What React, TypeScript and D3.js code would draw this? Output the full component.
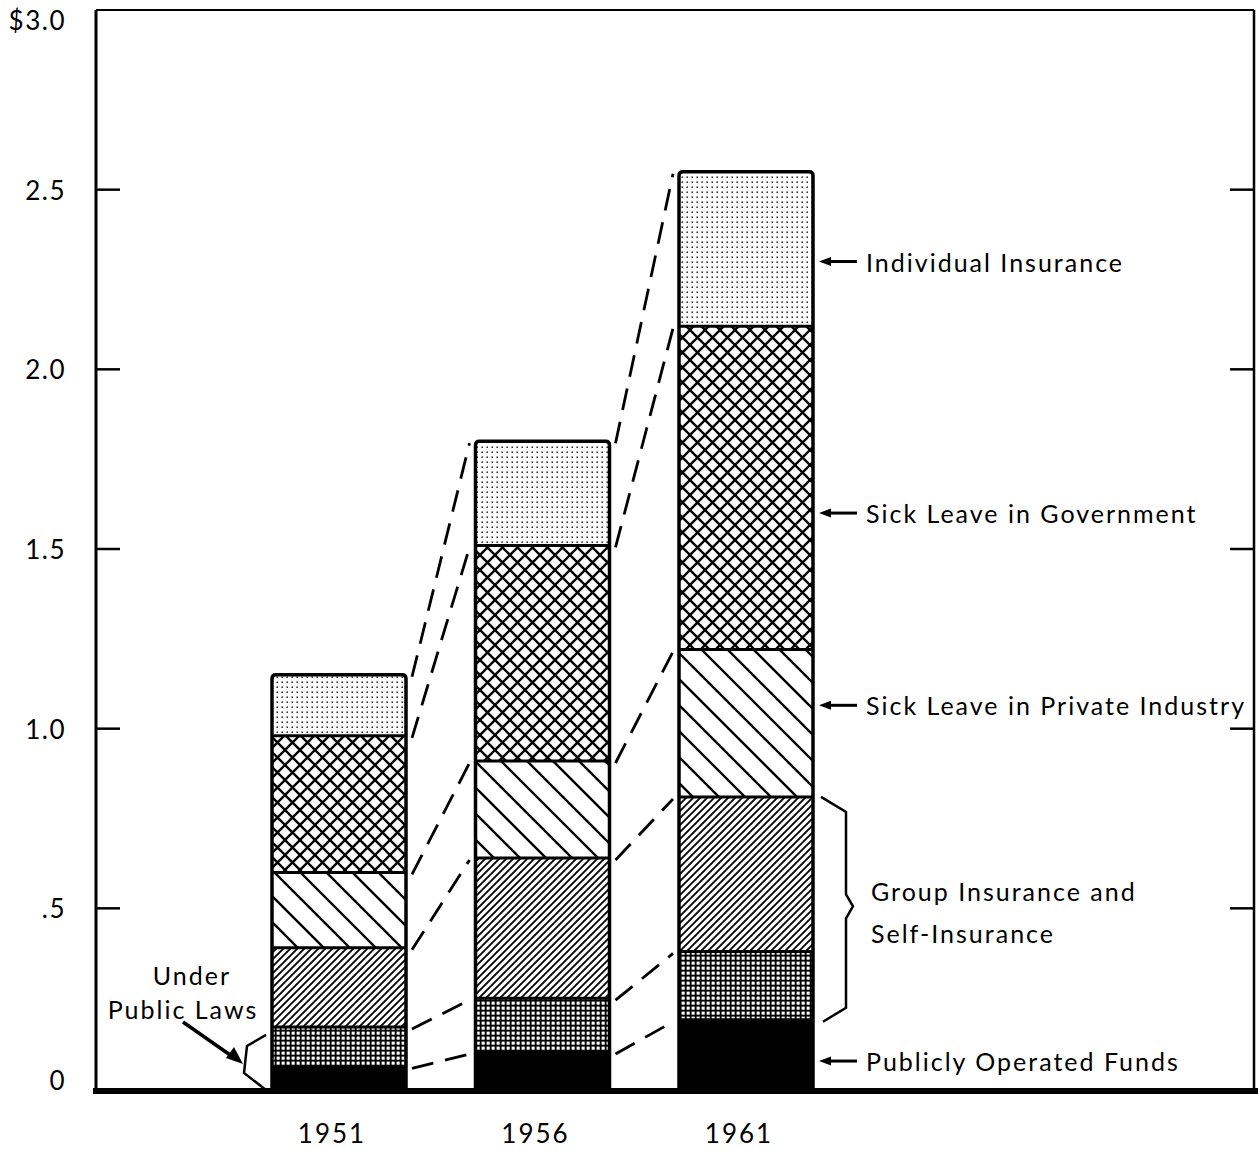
import React from "react";
import * as d3 from "d3";

// values in billions of dollars
const years = ["1951", "1956", "1961"];
const seriesKeys = ["public", "laws", "group", "private", "government", "individual"];
const publiclyOperatedFunds = [0.06, 0.1, 0.19];
const underPublicLaws = [0.11, 0.15, 0.19];
const groupInsurance = [0.22, 0.39, 0.43];
const sickLeavePrivate = [0.21, 0.27, 0.41];
const sickLeaveGovernment = [0.38, 0.6, 0.9];
const individualInsurance = [0.17, 0.29, 0.43];
const yTicks = [0, 0.5, 1, 1.5, 2, 2.5, 3];
const yTickLabels = ["0", ".5", "1.0", "1.5", "2.0", "2.5", "$3.0"];

const W = 1260;
const H = 1150;
const FONT = "Lato, 'DejaVu Sans', sans-serif";

const rows = years.map((year, i) => ({
  year,
  public: publiclyOperatedFunds[i],
  laws: underPublicLaws[i],
  group: groupInsurance[i],
  private: sickLeavePrivate[i],
  government: sickLeaveGovernment[i],
  individual: individualInsurance[i],
}));

const fills: Record<string, string> = {
  public: "#000",
  laws: "url(#pGrid)",
  group: "url(#pFine)",
  private: "url(#pWide)",
  government: "url(#pCross)",
  individual: "url(#pDots)",
};

// right hand labels, anchored at a value on the y scale
const rightLabels = [
  { text: "Individual Insurance", at: 2.3 },
  { text: "Sick Leave in Government", at: 1.6 },
  { text: "Sick Leave in Private Industry", at: 1.065 },
  { text: "Publicly Operated Funds", at: 0.075 },
];

export default function App() {
  const y = d3.scaleLinear().domain([0, 3]).range([1088, 10]);
  const x = d3.scalePoint<string>().domain(years).range([339, 746]);
  const barW = 134;
  const left = 96;
  const right = 1254;

  const stack = d3.stack<any>().keys(seriesKeys);
  const series = stack(rows);

  // boundaries (tops of each layer) per year
  const tops = years.map((_, i) => series.map((s) => s[i][1]));

  const arrowLeft = (ay: number, x0: number, x1: number) => (
    <g>
      <line x1={x0 + 9} y1={ay} x2={x1} y2={ay} stroke="#000" strokeWidth={3} />
      <path d={`M${x0},${ay} L${x0 + 12},${ay - 4.5} L${x0 + 12},${ay + 4.5} Z`} fill="#000" />
    </g>
  );

  const g1 = x("1961")! + barW / 2;
  const bTop = y(tops[2][2]);
  const bBot = y(tops[2][0]);
  const bMid = (bTop + bBot) / 2 - 2;

  const lawsX = x("1951")! - barW / 2;
  const lTop = y(tops[0][1]);
  const lBot = y(0);

  const label = { fontFamily: FONT, fontSize: 25, letterSpacing: 2 };

  return (
    <svg width={W} height={H} style={{ position: "absolute", left: 0, top: 0, background: "#fff" }}>
      <defs>
        <pattern id="pDots" width={5} height={5} patternUnits="userSpaceOnUse">
          <rect width={5} height={5} fill="#fff" />
          <rect x={1.5} y={1.5} width={1.4} height={1.4} fill="#000" />
        </pattern>
        <pattern id="pCross" width={15} height={15} patternUnits="userSpaceOnUse">
          <rect width={15} height={15} fill="#fff" />
          <path d="M-2,-2 L17,17 M-2,13 L2,17 M13,-2 L17,2 M17,-2 L-2,17 M-2,2 L2,-2 M13,17 L17,13" stroke="#000" strokeWidth={2.4} />
        </pattern>
        <pattern id="pWide" width={26} height={26} patternUnits="userSpaceOnUse">
          <rect width={26} height={26} fill="#fff" />
          <path d="M-2,-2 L28,28 M-2,24 L2,28 M24,-2 L28,2" stroke="#000" strokeWidth={2.4} />
        </pattern>
        <pattern id="pFine" width={7} height={7} patternUnits="userSpaceOnUse">
          <rect width={7} height={7} fill="#fff" />
          <path d="M-1,8 L8,-1 M-1,1 L1,-1 M6,8 L8,6" stroke="#000" strokeWidth={1.8} />
        </pattern>
        <pattern id="pGrid" width={5} height={5} patternUnits="userSpaceOnUse">
          <rect width={5} height={5} fill="#000" />
          <rect x={1.6} y={1.6} width={3.1} height={3.1} fill="#fff" />
        </pattern>
      </defs>

      {/* frame */}
      <line x1={left} y1={10} x2={right} y2={10} stroke="#000" strokeWidth={2} />
      <line x1={right} y1={10} x2={right} y2={1091} stroke="#000" strokeWidth={2.5} />
      <line x1={left} y1={10} x2={left} y2={1091} stroke="#000" strokeWidth={3} />
      {yTicks.filter((t) => t > 0 && t < 3).map((t) => (
        <g key={t}>
          <line x1={left} y1={y(t)} x2={left + 24} y2={y(t)} stroke="#000" strokeWidth={2.5} />
          <line x1={right - 24} y1={y(t)} x2={right} y2={y(t)} stroke="#000" strokeWidth={2.5} />
        </g>
      ))}
      {yTicks.map((t, i) => (
        <text
          key={t}
          x={66}
          y={Math.min(1080, Math.max(20, y(t)))}
          textAnchor="end"
          dominantBaseline="central"
          fontFamily={FONT}
          fontSize={26}
          letterSpacing={1.5}
        >
          {yTickLabels[i]}
        </text>
      ))}

      {/* bars */}
      {years.map((yr, i) => {
        const x0 = x(yr)! - barW / 2;
        return (
          <g key={yr}>
            {series.map((s) => (
              <rect
                key={s.key}
                x={x0}
                y={y(s[i][1])}
                width={barW}
                height={y(s[i][0]) - y(s[i][1])}
                fill={fills[s.key]}
              />
            ))}
            {tops[i].slice(0, -1).map((v, j) => (
              <line key={j} x1={x0} x2={x0 + barW} y1={y(v)} y2={y(v)} stroke="#000" strokeWidth={3} />
            ))}
            <path
              d={`M${x0},${y(0)} L${x0},${y(tops[i][5]) + 4} Q${x0},${y(tops[i][5])} ${x0 + 4},${y(tops[i][5])} L${x0 + barW - 4},${y(tops[i][5])} Q${x0 + barW},${y(tops[i][5])} ${x0 + barW},${y(tops[i][5]) + 4} L${x0 + barW},${y(0)}`}
              fill="none"
              stroke="#000"
              strokeWidth={3.5}
            />
          </g>
        );
      })}

      {/* dashed connectors */}
      {years.slice(0, -1).map((yr, i) => {
        const xa = x(yr)! + barW / 2 + 6;
        const xb = x(years[i + 1])! - barW / 2 - 6;
        return tops[i].map((v, j) => (
          <line
            key={`${yr}-${j}`}
            x1={xa}
            y1={y(v) + 2}
            x2={xb}
            y2={y(tops[i + 1][j]) + 2}
            stroke="#000"
            strokeWidth={2.8}
            strokeDasharray="22 12"
          />
        ));
      })}

      {/* baseline */}
      <line x1={93} y1={1091} x2={1258} y2={1091} stroke="#000" strokeWidth={6} />

      {/* year labels */}
      {years.map((yr) => (
        <text key={yr} x={x(yr)! - 7} y={1133} textAnchor="middle" dominantBaseline="central" fontFamily={FONT} fontSize={26} letterSpacing={2}>
          {yr}
        </text>
      ))}

      {/* right labels */}
      {rightLabels.map((l) => (
        <g key={l.text}>
          {arrowLeft(y(l.at), g1 + 6, g1 + 44)}
          <text x={g1 + 53} y={y(l.at)} dominantBaseline="central" {...label}>
            {l.text}
          </text>
        </g>
      ))}

      {/* brace for group insurance and self-insurance */}
      <path
        d={`M${g1 + 8},${bTop} L${g1 + 33},${bTop + 15} L${g1 + 33},${bMid - 12} L${g1 + 40},${bMid} L${g1 + 33},${bMid + 12} L${g1 + 33},${bBot - 12} L${g1 + 10},${bBot + 2}`}
        fill="none"
        stroke="#000"
        strokeWidth={2.5}
      />
      <text x={g1 + 58} y={bMid - 15} dominantBaseline="central" {...label}>
        Group Insurance and
      </text>
      <text x={g1 + 58} y={bMid + 27} dominantBaseline="central" {...label}>
        Self-Insurance
      </text>

      {/* under public laws */}
      <path
        d={`M${lawsX - 6},${lTop + 8} L${lawsX - 25},${lTop + 19} L${lawsX - 28},${lTop + 46} L${lawsX - 6},${lBot + 2}`}
        fill="none"
        stroke="#000"
        strokeWidth={2.5}
      />
      <line x1={183} y1={1022} x2={233} y2={1057} stroke="#000" strokeWidth={3.5} />
      <path d="M243,1064 L226,1058 L234,1047 Z" fill="#000" />
      <text x={192} y={975} textAnchor="middle" dominantBaseline="central" {...label}>
        Under
      </text>
      <text x={183} y={1009} textAnchor="middle" dominantBaseline="central" {...label}>
        Public Laws
      </text>
    </svg>
  );
}
